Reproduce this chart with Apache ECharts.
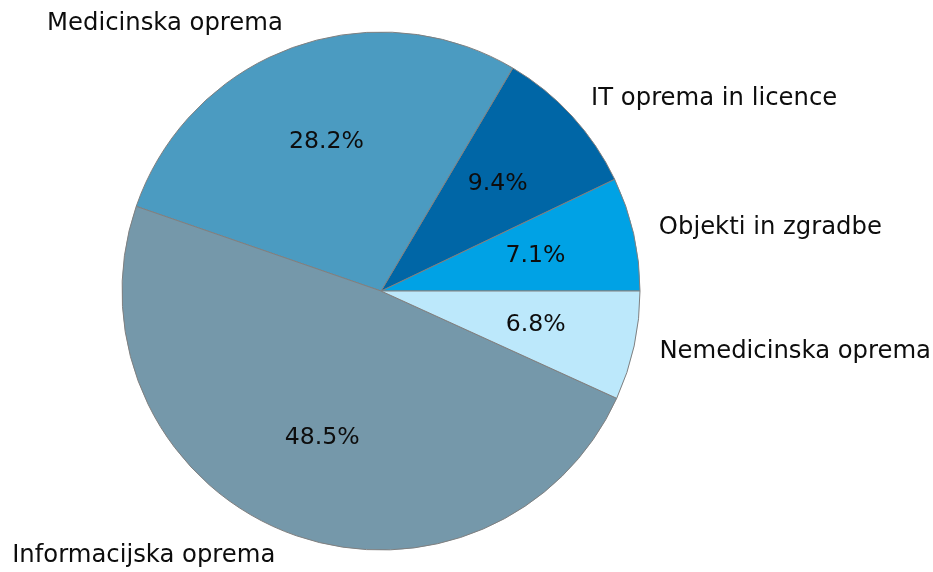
<!DOCTYPE html>
<html>
<head>
<meta charset="utf-8">
<script src="https://cdn.jsdelivr.net/npm/echarts@6/dist/echarts.min.js"></script>
<style>
html,body{margin:0;padding:0;background:#fff;}
#chart{width:933px;height:572px;}
</style>
</head>
<body>
<div id="chart"></div>
<script>
const categories = ['Objekti in zgradbe', 'IT oprema in licence', 'Medicinska oprema', 'Informacijska oprema', 'Nemedicinska oprema'];
const shares = [7.1, 9.4, 28.2, 48.5, 6.8];
const sliceColors = ['#00A2E5', '#0066A6', '#4B9BC1', '#7598AA', '#BCE8FB'];

const R = 259;
const CX = 381, CY = 291;
const FONT = 'DejaVu Sans';

const chart = echarts.init(document.getElementById('chart'), null, {renderer: 'canvas'});
const data = categories.map((c, i) => ({name: c, value: shares[i], itemStyle: {color: sliceColors[i]}}));

chart.setOption({
  backgroundColor: '#ffffff',
  animation: false,
  series: [
    {
      type: 'pie',
      center: [CX, CY],
      radius: [0, R],
      startAngle: 0,
      clockwise: false,
      avoidLabelOverlap: false,
      silent: true,
      data: data,
      itemStyle: {borderColor: '#808080', borderWidth: 1},
      label: {
        show: true,
        position: 'outside',
        formatter: '{b}',
        fontFamily: FONT,
        fontSize: 24.3,
        color: '#0d0d0d',
        distanceToLabelLine: 0
      },
      labelLine: {show: false, length: R * 0.1, length2: 0}
    },
    {
      type: 'pie',
      center: [CX, CY],
      radius: [0, R * 1.2],
      startAngle: 0,
      clockwise: false,
      avoidLabelOverlap: false,
      silent: true,
      z: 5,
      data: categories.map((c, i) => ({name: c, value: shares[i]})),
      itemStyle: {color: 'rgba(0,0,0,0)', borderWidth: 0},
      label: {
        show: true,
        position: 'inside',
        formatter: p => p.value.toFixed(1) + '%',
        fontFamily: FONT,
        fontSize: 23.6,
        color: '#0d0d0d'
      },
      labelLine: {show: false}
    }
  ]
});
</script>
</body>
</html>
